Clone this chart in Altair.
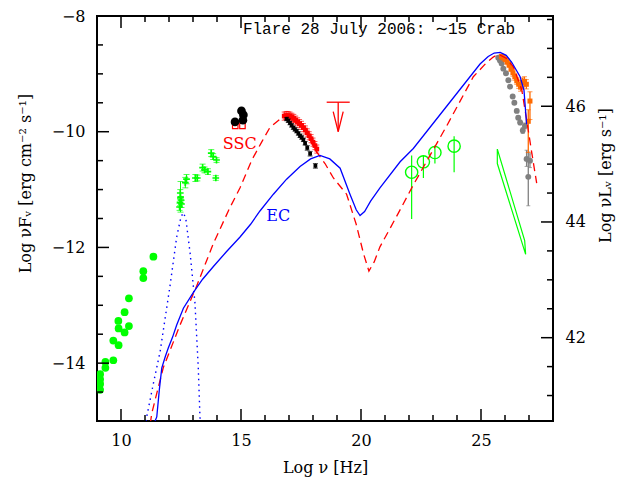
import altair as alt
import pandas as pd

# ---------------- data ----------------
radio_x = [11.35, 10.93, 10.93, 10.33, 10.15, 9.89, 9.90, 10.33, 10.15, 9.68, 9.90, 9.68, 9.35, 9.35, 9.13, 9.13, 9.13, 9.13]
radio_y = [-12.16, -12.41, -12.53, -12.88, -13.12, -13.27, -13.40, -13.36, -13.47, -13.61, -13.69, -13.95, -13.98, -14.08, -14.19, -14.28, -14.36, -14.46]

ir_x = [12.44, 12.46, 12.48, 12.47, 12.50, 12.52, 12.68, 12.73, 13.10, 13.18, 13.40, 13.48, 13.62, 13.95, 13.76, 13.84, 13.98]
ir_y = [-11.30, -11.22, -11.14, -11.06, -11.18, -11.25, -10.88, -10.82, -10.80, -10.80, -10.62, -10.66, -10.69, -10.80, -10.37, -10.43, -10.49]
ir_lo = [-11.36, -11.28, -11.39, -11.12, -11.24, -11.31, -10.97, -10.90, -10.86, -10.85, -10.68, -10.71, -10.74, -10.84, -10.43, -10.48, -10.53]
ir_hi = [-11.24, -11.16, -10.86, -11.00, -11.12, -11.19, -10.79, -10.74, -10.74, -10.75, -10.56, -10.61, -10.64, -10.76, -10.31, -10.38, -10.45]

opt_x = [15.02, 15.10, 14.75, 15.08]
opt_y = [-9.64, -9.71, -9.83, -9.80]
uvsq_x = [14.76, 15.06]
uvsq_y = [-9.90, -9.90]

xr_x = [16.80, 16.88, 16.96, 17.04, 17.12, 17.20, 17.28, 17.36, 17.44, 17.52, 17.60, 17.68, 17.76, 17.84, 17.92, 18.00, 18.08, 18.16]
xr_y = [-9.73, -9.72, -9.72, -9.73, -9.75, -9.77, -9.80, -9.83, -9.86, -9.89, -9.93, -9.97, -10.02, -10.07, -10.12, -10.18, -10.24, -10.30]
xr_lo = [-9.80, -9.79, -9.79, -9.80, -9.82, -9.84, -9.87, -9.90, -9.93, -9.96, -10.00, -10.04, -10.09, -10.14, -10.19, -10.25, -10.31, -10.37]
xr_hi = [-9.66, -9.65, -9.65, -9.66, -9.68, -9.70, -9.73, -9.76, -9.79, -9.82, -9.86, -9.90, -9.95, -10.00, -10.05, -10.11, -10.17, -10.23]

xb_x = [16.90, 16.97, 17.04, 17.11, 17.18, 17.25, 17.32, 17.39, 17.46, 17.53, 17.60, 17.67, 17.76, 17.88, 18.10]
xb_y = [-9.78, -9.81, -9.85, -9.89, -9.93, -9.96, -9.99, -10.03, -10.07, -10.10, -10.14, -10.20, -10.28, -10.38, -10.59]
xb_lo = [-9.81, -9.84, -9.88, -9.92, -9.96, -9.99, -10.02, -10.06, -10.10, -10.13, -10.17, -10.23, -10.32, -10.42, -10.63]
xb_hi = [-9.75, -9.78, -9.82, -9.86, -9.90, -9.93, -9.96, -10.00, -10.04, -10.07, -10.11, -10.17, -10.24, -10.34, -10.55]

ul_x = [19.05]
ul_top = [-9.49]
ul_tip = [-10.00]
ul_x1 = [18.57]
ul_x2 = [19.53]

fermi_x = [22.11, 22.60, 23.08, 23.88]
fermi_y = [-10.70, -10.52, -10.36, -10.25]
fermi_lo = [-11.51, -10.80, -10.55, -10.70]
fermi_hi = [-10.41, -10.41, -10.24, -10.08]

bow_x = [25.68, 26.82, 26.86, 25.68, 25.68]
bow_y = [-10.30, -11.88, -12.12, -10.55, -10.30]

grey_x = [25.72, 25.79, 25.86, 25.93, 26.04, 26.14, 26.21, 26.32, 26.39, 26.49, 26.55, 26.63, 26.74, 26.83, 26.90, 27.04, 26.97]
grey_y = [-8.72, -8.77, -8.82, -8.91, -8.99, -9.11, -9.22, -9.39, -9.50, -9.64, -9.76, -9.84, -9.98, -9.90, -10.47, -10.50, -10.78]
grey_lo = [-8.74, -8.79, -8.84, -8.93, -9.01, -9.13, -9.24, -9.41, -9.52, -9.67, -9.79, -9.88, -10.03, -9.95, -10.60, -10.62, -11.28]
grey_hi = [-8.70, -8.75, -8.80, -8.89, -8.97, -9.09, -9.20, -9.37, -9.48, -9.61, -9.73, -9.80, -9.93, -9.85, -10.32, -10.38, -10.35]

orange_x = [25.85, 25.93, 26.01, 26.09, 26.17, 26.25, 26.33, 26.41, 26.49, 26.57, 26.65, 26.73, 26.81, 26.89, 27.04, 26.97]
orange_y = [-8.70, -8.72, -8.75, -8.79, -8.84, -8.91, -8.98, -9.05, -9.12, -9.18, -9.23, -9.15, -9.13, -9.18, -9.47, -9.82]
orange_lo = [-8.74, -8.76, -8.79, -8.84, -8.89, -8.96, -9.04, -9.11, -9.18, -9.25, -9.30, -9.23, -9.21, -9.26, -9.79, -10.36]
orange_hi = [-8.66, -8.68, -8.71, -8.74, -8.79, -8.86, -8.92, -8.99, -9.06, -9.11, -9.16, -9.07, -9.05, -9.10, -9.31, -9.62]

ec_x = [11.42, 11.49, 11.60, 11.70, 11.85, 11.97, 12.15, 12.32, 12.60, 13.01, 13.40, 13.85, 14.40, 14.96, 15.40, 15.79, 16.35, 16.90, 17.46, 17.90, 18.29, 18.70, 19.13, 19.54, 19.80, 19.96, 20.15, 20.40, 20.79, 21.63, 22.18, 23.57, 24.96, 25.30, 25.55, 25.80, 26.05, 26.28, 26.45, 26.63, 26.79, 26.90]
ec_y = [-15.00, -14.93, -14.45, -14.08, -13.88, -13.74, -13.55, -13.34, -13.05, -12.78, -12.55, -12.33, -12.07, -11.82, -11.60, -11.37, -11.08, -10.82, -10.60, -10.47, -10.41, -10.47, -10.63, -11.08, -11.35, -11.45, -11.38, -11.20, -10.97, -10.52, -10.29, -9.56, -8.83, -8.70, -8.64, -8.63, -8.68, -8.80, -8.92, -9.05, -9.28, -9.87]

ssc_x = [11.22, 11.28, 11.76, 12.46, 13.15, 13.85, 14.54, 14.96, 15.45, 15.86, 16.20, 16.63, 16.90, 17.20, 17.60, 18.15, 18.50, 18.85, 19.40, 19.80, 20.10, 20.33, 20.55, 20.79, 21.50, 22.18, 23.57, 24.68, 25.20, 25.51, 25.72, 26.05, 26.35, 26.70, 26.90, 27.11, 27.32]
ssc_y = [-15.05, -14.87, -14.08, -13.34, -12.67, -11.93, -11.31, -10.97, -10.49, -10.18, -9.93, -9.78, -9.71, -9.74, -9.92, -10.35, -10.55, -10.80, -11.08, -11.60, -12.10, -12.41, -12.25, -11.99, -11.45, -10.92, -9.90, -9.05, -8.82, -8.71, -8.66, -8.73, -8.88, -9.28, -9.79, -10.35, -10.89]

bb_x = [11.00, 11.07, 11.35, 11.63, 12.04, 12.32, 12.50, 12.60, 12.70, 12.88, 13.08, 13.22, 13.29, 13.33]
bb_y = [-15.10, -14.93, -14.35, -13.80, -12.67, -11.82, -11.47, -11.40, -11.50, -12.10, -12.95, -14.08, -14.93, -15.10]

x_major = [10, 15, 20, 25]
x_ticks = [9, 10, 11, 12, 13, 14, 15, 16, 17, 18, 19, 20, 21, 22, 23, 24, 25, 26, 27, 28]
yF_major = [-14, -12, -10, -8]
yF_ticks = [-15, -14.5, -14, -13.5, -13, -12.5, -12, -11.5, -11, -10.5, -10, -9.5, -9, -8.5, -8]
yL_major = [42, 44, 46]
yL_ticks = [41, 41.5, 42, 42.5, 43, 43.5, 44, 44.5, 45, 45.5, 46, 46.5, 47, 47.5]

title_text = ["Flare 28 July 2006: \u223c15 Crab"]
title_pos = ([20.75], [-8.22])
ssc_label = (["SSC"], [14.95], [-10.22])
ec_label = (["EC"], [16.55], [-11.45])

# ---------------- chart ----------------
W, H = 456, 405
FONT = "DejaVu Serif"
XD = [9, 28]
FS = [-15, -8]
LS = [40.56, 47.56]
XS = alt.Scale(domain=XD, nice=False, zero=False)
PX_X = (XD[1] - XD[0]) / W
PX_Y = (FS[1] - FS[0]) / H
PX_L = (LS[1] - LS[0]) / H
MAJ_LEN, MIN_LEN, TW = 12, 6, 1.5


def X(f="x"):
    return alt.X(f, type="quantitative", scale=XS, axis=None)


def Y(f="y", dom=FS):
    return alt.Y(f, type="quantitative", scale=alt.Scale(domain=dom, nice=False, zero=False), axis=None)


def df(**cols):
    return pd.DataFrame(cols)


def tick_len(vals, major):
    return [MAJ_LEN if v in major else MIN_LEN for v in vals]


def errbars(d, color, cap=5, width=1.0):
    rule = alt.Chart(d).mark_rule(color=color, strokeWidth=width, clip=True).encode(
        x=X(), y=Y("lo"), y2="hi")
    c1 = alt.Chart(d).mark_tick(color=color, orient="horizontal", size=cap, thickness=1, clip=True).encode(
        x=X(), y=Y("lo"))
    c2 = alt.Chart(d).mark_tick(color=color, orient="horizontal", size=cap, thickness=1, clip=True).encode(
        x=X(), y=Y("hi"))
    return [rule, c1, c2]


GREEN = "#00ff00"
RED = "#ff0000"
BLUE = "#0000ff"
ORANGE = "#ff6a00"
GREY = "#808080"

layers = []
layers.append(alt.Chart(df(x=radio_x, y=radio_y)).mark_circle(size=60, color=GREEN, opacity=1, clip=True).encode(x=X(), y=Y()))
d_ir = df(x=ir_x, y=ir_y, lo=ir_lo, hi=ir_hi)
layers += errbars(d_ir, GREEN, cap=6)
layers.append(alt.Chart(d_ir).mark_point(shape="M-1,0L1,0M0,-1L0,1", size=45, filled=False, color=GREEN, strokeWidth=1.6, opacity=1, clip=True).encode(x=X(), y=Y()))
layers.append(alt.Chart(df(x=uvsq_x, y=uvsq_y)).mark_point(shape="square", size=30, filled=False, color=RED, strokeWidth=1.2, opacity=1, clip=True).encode(x=X(), y=Y()))
layers.append(alt.Chart(df(x=opt_x, y=opt_y)).mark_circle(size=75, color="black", opacity=1, clip=True).encode(x=X(), y=Y()))
d_xr = df(x=xr_x, y=xr_y, lo=xr_lo, hi=xr_hi)
layers += errbars(d_xr, RED, cap=5)
layers.append(alt.Chart(d_xr).mark_square(size=22, color=RED, opacity=1, clip=True).encode(x=X(), y=Y()))
d_xk = df(x=xb_x, y=xb_y, lo=xb_lo, hi=xb_hi)
layers += errbars(d_xk, "black", cap=5)
layers.append(alt.Chart(d_xk).mark_square(size=14, color="black", opacity=1, clip=True).encode(x=X(), y=Y()))
d_ul = df(x=ul_x, top=ul_top, tip=ul_tip, x1=ul_x1, x2=ul_x2)
layers.append(alt.Chart(d_ul).mark_rule(color=RED, strokeWidth=1.3).encode(x=X("x1"), x2="x2", y=Y("top")))
layers.append(alt.Chart(d_ul).mark_rule(color=RED, strokeWidth=1.3).encode(x=X("x"), y=Y("top"), y2="tip"))
layers.append(alt.Chart(d_ul).mark_point(shape="M-0.5,-2L0,0L0.5,-2", size=400, filled=False, color=RED, strokeWidth=1.3, opacity=1).encode(x=X("x"), y=Y("tip")))
d_f = df(x=fermi_x, y=fermi_y, lo=fermi_lo, hi=fermi_hi)
layers.append(alt.Chart(d_f).mark_rule(color=GREEN, strokeWidth=1.2).encode(x=X(), y=Y("lo"), y2="hi"))
layers.append(alt.Chart(d_f).mark_point(shape="circle", size=150, filled=False, color=GREEN, strokeWidth=1.4, opacity=1).encode(x=X(), y=Y()))
layers.append(alt.Chart(df(x=bow_x, y=bow_y, i=list(range(len(bow_x))))).mark_line(color=GREEN, strokeWidth=1.2).encode(x=X(), y=Y(), order="i:Q"))
d_g = df(x=grey_x, y=grey_y, lo=grey_lo, hi=grey_hi)
layers += errbars(d_g, GREY, cap=4, width=1.3)
layers.append(alt.Chart(d_g).mark_circle(size=35, color=GREY, opacity=1, clip=True).encode(x=X(), y=Y()))
d_o = df(x=orange_x, y=orange_y, lo=orange_lo, hi=orange_hi)
layers += errbars(d_o, ORANGE, cap=5, width=1.3)
layers.append(alt.Chart(d_o).mark_square(size=25, color=ORANGE, opacity=1, clip=True).encode(x=X(), y=Y()))

layers.append(alt.Chart(df(x=bb_x, y=bb_y, i=list(range(len(bb_x))))).mark_line(color=BLUE, strokeWidth=1.4, strokeDash=[1.5, 4], clip=True).encode(x=X(), y=Y(), order="i:Q"))
layers.append(alt.Chart(df(x=ssc_x, y=ssc_y, i=list(range(len(ssc_x))))).mark_line(color=RED, strokeWidth=1.3, strokeDash=[8, 5], clip=True).encode(x=X(), y=Y(), order="i:Q"))
layers.append(alt.Chart(df(x=ec_x, y=ec_y, i=list(range(len(ec_x))))).mark_line(color=BLUE, strokeWidth=1.3, clip=True).encode(x=X(), y=Y(), order="i:Q"))

layers.append(alt.Chart(df(t=title_text, x=title_pos[0], y=title_pos[1])).mark_text(font="Liberation Mono", fontSize=16, color="black").encode(x=X(), y=Y(), text="t:N"))
layers.append(alt.Chart(df(t=ssc_label[0], x=ssc_label[1], y=ssc_label[2])).mark_text(font=FONT, fontSize=16, color=RED).encode(x=X(), y=Y(), text="t:N"))
layers.append(alt.Chart(df(t=ec_label[0], x=ec_label[1], y=ec_label[2])).mark_text(font=FONT, fontSize=16, color=BLUE).encode(x=X(), y=Y(), text="t:N"))

# ---------------- inward tick marks as thin filled rectangles (data units) ----------------
xl = tick_len(x_ticks, x_major)
tx0 = [v - TW / 2 * PX_X for v in x_ticks]
tx1 = [v + TW / 2 * PX_X for v in x_ticks]
d_bot = df(x=tx0, x2=tx1, y=[FS[0] for _ in x_ticks], y2=[FS[0] + n * PX_Y for n in xl])
d_top = df(x=tx0, x2=tx1, y=[FS[1] - n * PX_Y for n in xl], y2=[FS[1] for _ in x_ticks])
layers.append(alt.Chart(d_bot).mark_rect(color="black", opacity=1).encode(x=X(), x2="x2", y=Y(), y2="y2"))
layers.append(alt.Chart(d_top).mark_rect(color="black", opacity=1).encode(x=X(), x2="x2", y=Y(), y2="y2"))
fl = tick_len(yF_ticks, yF_major)
d_lft = df(x=[XD[0] for _ in yF_ticks], x2=[XD[0] + n * PX_X for n in fl],
           y=[v - TW / 2 * PX_Y for v in yF_ticks], y2=[v + TW / 2 * PX_Y for v in yF_ticks])
layers.append(alt.Chart(d_lft).mark_rect(color="black", opacity=1).encode(x=X(), x2="x2", y=Y(), y2="y2"))
ll = tick_len(yL_ticks, yL_major)
d_rgt = df(x=[XD[1] - n * PX_X for n in ll], x2=[XD[1] for _ in yL_ticks],
           y=[v - TW / 2 * PX_L for v in yL_ticks], y2=[v + TW / 2 * PX_L for v in yL_ticks])
layers.append(alt.Chart(d_rgt).mark_rect(color="black", opacity=1).encode(x=X(), x2="x2", y=Y("y", LS), y2="y2"))

# ---------------- axes (labels and titles) ----------------
carrier = df(x=[9.0], y=[-15.0], L=[41.0])
base = dict(domain=False, grid=False, ticks=False, tickSize=0)
lab = dict(labelFont=FONT, labelFontSize=16, labelColor="black", format="d", titleFont=FONT,
           titleFontSize=16, titleFontWeight="normal", titleColor="black", titleBaseline="middle",
           titleAlign="center")

layers.append(alt.Chart(carrier).mark_point(opacity=0).encode(
    x=alt.X("x", type="quantitative", scale=XS,
            axis=alt.Axis(orient="bottom", values=x_major, labelPadding=11, title="Log \u03bd [Hz]",
                          titleX=W / 2, titleY=46, **lab, **base)),
    y=alt.Y("y", type="quantitative", scale=alt.Scale(domain=FS, nice=False, zero=False),
            axis=alt.Axis(orient="left", values=yF_major, labelPadding=12,
                          title="Log \u03bdF\u1d65 [erg cm\u207b\u00b2 s\u207b\u00b9]", titleAngle=270,
                          titleX=-72, titleY=167, **lab, **base)),
))
layers.append(alt.Chart(carrier).mark_point(opacity=0).encode(
    x=X("x"),
    y=alt.Y("L", type="quantitative", scale=alt.Scale(domain=LS, nice=False, zero=False),
            axis=alt.Axis(orient="right", values=yL_major, labelPadding=12,
                          title="Log \u03bdL\u1d65 [erg s\u207b\u00b9]", titleAngle=270, titleX=52, titleY=159,
                          **lab, **base)),
))

chart = alt.layer(*layers).resolve_scale(y="independent").resolve_axis(x="independent", y="independent").properties(
    width=W, height=H,
    autosize=alt.AutoSizeParams(type="none"),
    padding={"left": 89, "top": 8, "right": 65, "bottom": 56},
    background="white",
).configure_view(stroke="black", strokeWidth=2)

chart.save("out.html", embed_options={"renderer": "svg", "actions": False})
